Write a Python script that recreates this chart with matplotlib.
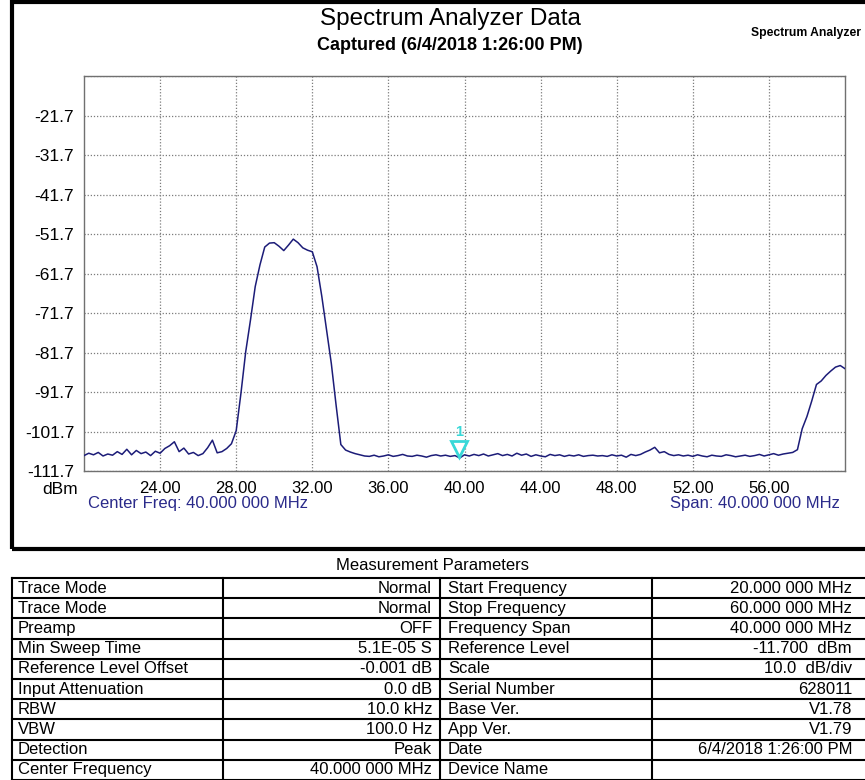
import numpy as np
import matplotlib
matplotlib.use("Agg")
import matplotlib.pyplot as plt
from matplotlib import font_manager
from matplotlib.patches import Rectangle
from matplotlib.lines import Line2D

# pick an Arial-like font, narrow if there is one
names = {f.name for f in font_manager.fontManager.ttflist}
FONT = "Liberation Sans Narrow" if "Liberation Sans Narrow" in names else "Liberation Sans"
plt.rcParams["font.family"] = [FONT, "DejaVu Sans"]

# sweep 20-60 MHz, 0.25 MHz steps
freq_mhz = np.arange(20.0, 60.001, 0.25)
level_dbm = [
    # 20.00 - 27.75
    -107.8, -107.2, -107.6, -107.0, -107.9, -107.4, -107.7, -106.8,
    -107.5, -106.2, -107.6, -106.5, -107.3, -106.9, -107.8, -106.7,
    -107.2, -106.0, -105.3, -104.3, -106.8, -105.9, -107.4, -107.0,
    -107.8, -107.3, -105.8, -103.9, -107.1, -106.8, -106.0, -104.8,
    # 28.00 - 35.00
    -101.5, -92.0, -81.5, -73.5, -65.0, -59.5, -55.0, -54.0,
    -53.9, -54.8, -55.9, -54.5, -53.0, -53.9, -55.2, -55.8,
    -56.2, -60.0, -67.5, -76.0, -84.5, -95.0, -105.0, -106.4,
    -106.9, -107.3, -107.6, -107.9, -108.0,
    # 35.25 - 57.00
    -107.7, -108.1, -107.9, -107.6, -108.0, -107.8, -107.5, -107.9,
    -108.0, -107.7, -107.9, -108.2, -107.8, -107.6, -107.9, -107.7,
    -108.0, -107.8, -108.4, -107.6, -107.9, -107.5, -107.8, -107.4,
    -107.9, -107.6, -107.3, -107.8, -107.5, -107.9, -107.2, -107.7,
    -107.4, -108.0, -107.6, -107.9, -108.1, -107.5, -107.8, -107.6,
    -108.0, -107.7, -107.9, -107.6, -108.0, -107.8, -107.7, -107.9,
    -107.8, -108.0, -107.6, -107.9, -107.7, -108.2, -107.5, -107.8,
    -107.5, -106.9, -106.4, -105.7, -107.1, -106.8, -107.5, -107.8,
    -107.6, -107.9, -107.7, -108.0, -107.6, -107.9, -108.1, -107.7,
    -107.9, -108.0, -107.6, -107.8, -108.1, -107.9, -107.7, -108.0,
    -107.8, -107.5, -107.9, -107.6, -107.3, -107.7, -107.4, -107.2,
    # 57.25 - 60.00
    -107.0, -106.3, -101.0, -97.9, -94.0, -89.8, -88.9, -87.5,
    -86.4, -85.4, -85.0, -85.8,
]

x_ticks = [24, 28, 32, 36, 40, 44, 48, 52, 56]
y_ticks = [-111.7, -101.7, -91.7, -81.7, -71.7, -61.7, -51.7, -41.7, -31.7, -21.7, -11.7]
marker_freq = 39.7
marker_level = -106.1

left_names = ["Trace Mode", "Trace Mode", "Preamp", "Min Sweep Time", "Reference Level Offset",
              "Input Attenuation", "RBW", "VBW", "Detection", "Center Frequency"]
left_values = ["Normal", "Normal", "OFF", "5.1E-05 S", "-0.001 dB",
               "0.0 dB", "10.0 kHz", "100.0 Hz", "Peak", "40.000 000 MHz"]
right_names = ["Start Frequency", "Stop Frequency", "Frequency Span", "Reference Level", "Scale",
               "Serial Number", "Base Ver.", "App Ver.", "Date", "Device Name"]
right_values = ["20.000 000 MHz", "60.000 000 MHz", "40.000 000 MHz", "-11.700  dBm", "10.0  dB/div",
                "628011", "V1.78", "V1.79", "6/4/2018 1:26:00 PM", ""]

W, H = 865, 780
TRACE = "#1c1c78"
CYAN = "#38d8d8"


def fx(x):
    return x / W


def fy(y):
    return 1 - y / H


fig = plt.figure(figsize=(W / 100, H / 100), dpi=100)
fig.patch.set_facecolor("white")

# outer frame of the chart part (runs off the right edge)
fig.add_artist(Rectangle((fx(12), fy(549)), 1.0, (549 - 2) / H, transform=fig.transFigure,
                         fill=False, edgecolor="black", linewidth=3, clip_on=False))

fig.text(fx(450), fy(19), "Spectrum Analyzer Data", ha="center", va="center", fontsize=17.5)
fig.text(fx(450), fy(46), "Captured (6/4/2018 1:26:00 PM)", ha="center", va="center",
         fontsize=13, fontweight="bold")
fig.text(fx(751), fy(33), "Spectrum Analyzer", ha="left", va="center", fontsize=8.7,
         fontweight="bold")

ax = fig.add_axes([fx(84), fy(471), (845 - 84) / W, (471 - 76) / H])
ax.plot(freq_mhz, level_dbm, color=TRACE, linewidth=1.1, zorder=3)
ax.set_xlim(20, 60)
ax.set_ylim(-111.7, -11.7)
ax.set_xticks(x_ticks)
ax.set_xticklabels([f"{v:.2f}" for v in x_ticks], fontsize=12)
ax.set_yticks(y_ticks)
ax.set_yticklabels([f"{v:.1f}" for v in y_ticks[:-1]] + [""], fontsize=12.5)
ax.tick_params(length=0, pad=7)
ax.grid(True, color="#7c7c7c", linestyle=(0, (1, 1.5)), linewidth=0.9)
for s in ax.spines.values():
    s.set_color("#707070")
    s.set_linewidth(1.0)

# marker 1
ax.plot([marker_freq], [marker_level], marker="v", markersize=11, markerfacecolor="none",
        markeredgecolor=CYAN, markeredgewidth=2, zorder=4)
ax.text(marker_freq, marker_level + 4.4, "1", color=CYAN, fontsize=10.5, fontweight="bold",
        ha="center", va="center", zorder=4)

fig.text(fx(60), fy(489), "dBm", ha="center", va="center", fontsize=12.5)
fig.text(fx(88), fy(503), "Center Freq: 40.000 000 MHz", ha="left", va="center",
         fontsize=12, color="#2a2a8a")
fig.text(fx(840), fy(503), "Span: 40.000 000 MHz", ha="right", va="center",
         fontsize=12, color="#2a2a8a")

# measurement parameter table
fig.text(fx(432), fy(565), "Measurement Parameters", ha="center", va="center", fontsize=12)
tab = fig.add_axes([fx(12), 0, (W + 2 - 12) / W, (779 - 577) / H])
tab.set_xlim(12, W + 2)
tab.set_ylim(len(left_names), 0)
tab.axis("off")
cols = [12, 223, 440, 652, W + 2]
for c in cols:
    tab.add_line(Line2D([c, c], [0, len(left_names)], color="black", linewidth=1.5, clip_on=False))
for r in range(len(left_names) + 1):
    tab.add_line(Line2D([cols[0], cols[-1]], [r, r], color="black", linewidth=1.5, clip_on=False))
for i in range(len(left_names)):
    yc = i + 0.5
    tab.text(cols[0] + 6, yc, left_names[i], ha="left", va="center", fontsize=12)
    tab.text(cols[2] - 8, yc, left_values[i], ha="right", va="center", fontsize=12)
    tab.text(cols[2] + 8, yc, right_names[i], ha="left", va="center", fontsize=12)
    tab.text(W - 13, yc, right_values[i], ha="right", va="center", fontsize=12)

fig.savefig("out.png", dpi=100, facecolor="white")
